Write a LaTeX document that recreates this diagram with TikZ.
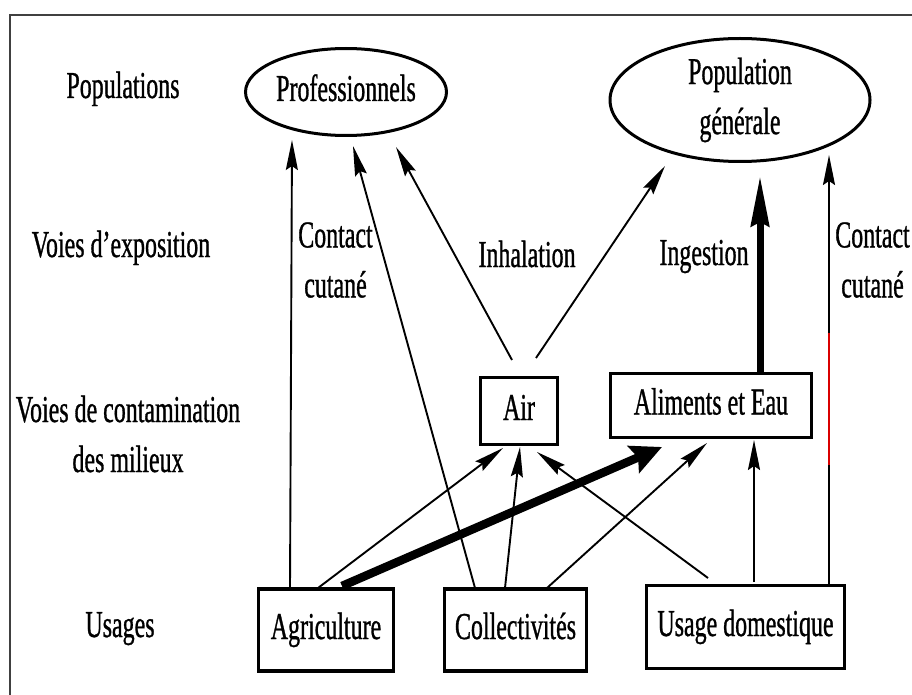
\documentclass[tikz,border=0pt]{standalone}
\usepackage{fontspec}
\setmainfont{Liberation Serif}[FakeStretch=0.63,FakeBold=0.8]
\usetikzlibrary{arrows.meta,calc,shapes.geometric}
\begin{document}
\begin{tikzpicture}[x=1pt,y=-1pt,
  fnt/.style={font=\fontsize{38}{50}\selectfont},
  lab/.style={fnt, inner sep=0pt, anchor=base},
  labtwo/.style={fnt, inner sep=0pt, align=center},
  boxn/.style={fnt, draw, rectangle, line width=3.3pt, inner sep=0pt, text height=26pt, text depth=8pt},
  elln/.style={fnt, draw, ellipse, line width=3pt, inner sep=0pt, align=center},
  arr/.style={line width=1.9pt, -{Stealth[length=30pt,width=12pt,inset=4pt]}},
  thicka/.style={line width=7pt, -{Stealth[length=50pt,width=18pt,inset=4pt]}},
  thickb/.style={line width=8.5pt, -{Stealth[length=31pt,width=29pt,inset=5pt]}}]
\useasboundingbox (0,0) rectangle (912,695);
\fill[white] (0,0) rectangle (912,695);
\draw[line width=2pt, black!75] (10,695) -- (10,15) -- (912,15);

% row labels
\node[lab] (tpop) at (123,98) {Populations};
\node[lab] (tvoies) at (121,257) {Voies d’exposition};
\node[labtwo] (tcont) at (128,434) {Voies de contamination\\des milieux};
\node[lab] (tusa) at (120,637) {Usages};

% nodes
\node[elln, minimum width=201pt, minimum height=87pt, text height=26pt, text depth=8pt] (prof) at (346,92) {Professionnels};
\node[elln, minimum width=260pt, minimum height=123pt] (pop) at (740,100) {Population\\générale};
\node[boxn, minimum width=77pt, minimum height=67pt] (air) at (519,411) {Air};
\node[boxn, minimum width=201pt, minimum height=64pt] (alim) at (711,405.5) {Aliments et Eau};
\node[boxn, minimum width=135pt, minimum height=82pt] (agri) at (326,630) {Agriculture};
\node[boxn, minimum width=142pt, minimum height=82pt] (coll) at (515.5,630) {Collectivités};
\node[boxn, minimum width=198pt, minimum height=83pt] (dom) at (745.5,627) {Usage domestique};

% edge labels
\node[labtwo] (tcc1) at (335.5,260) {Contact\\cutané};
\node[lab] (tinh) at (527,267) {Inhalation};
\node[lab] (ting) at (704,265) {Ingestion};
\node[labtwo] (tcc2) at (872.5,260) {Contact\\cutané};

% connectors
\draw[arr] ($(agri.center)+(-36,-42)$) -- ($(prof.center)+(-54,48)$);
\draw[arr] ($(coll.center)+(-40.5,-42)$) -- ($(prof.center)+(7,54)$);
\draw[arr] ($(air.center)+(-7,-51)$) -- ($(prof.center)+(50,55)$);
\draw[arr] ($(air.center)+(17,-53)$) -- ($(pop.center)+(-75,66)$);
\draw[thicka] ($(alim.center)+(49,-33.5)$) -- ($(pop.center)+(20,76)$);
\draw[arr] ($(dom.center)+(83.5,-43)$) -- ($(pop.center)+(89,55)$);
\draw[red!85!black, line width=1.9pt] ($(dom.center)+(83.5,-162)$) -- ($(dom.center)+(83.5,-294)$);
\draw[arr] ($(agri.center)+(-8,-42)$) -- ($(air.center)+(-16,37)$);
\draw[thickb] ($(agri.center)+(16,-44)$) -- ($(alim.center)+(-49,41.5)$);
\draw[arr] ($(coll.center)+(-10.5,-42)$) -- ($(air.center)+(1,36)$);
\draw[arr] ($(coll.center)+(31.5,-42)$) -- ($(alim.center)+(-4,37.5)$);
\draw[arr] ($(dom.center)+(-37.5,-49)$) -- ($(air.center)+(18,41)$);
\draw[arr] ($(dom.center)+(8.5,-45)$) -- ($(alim.center)+(43,34.5)$);
\end{tikzpicture}
\end{document}
